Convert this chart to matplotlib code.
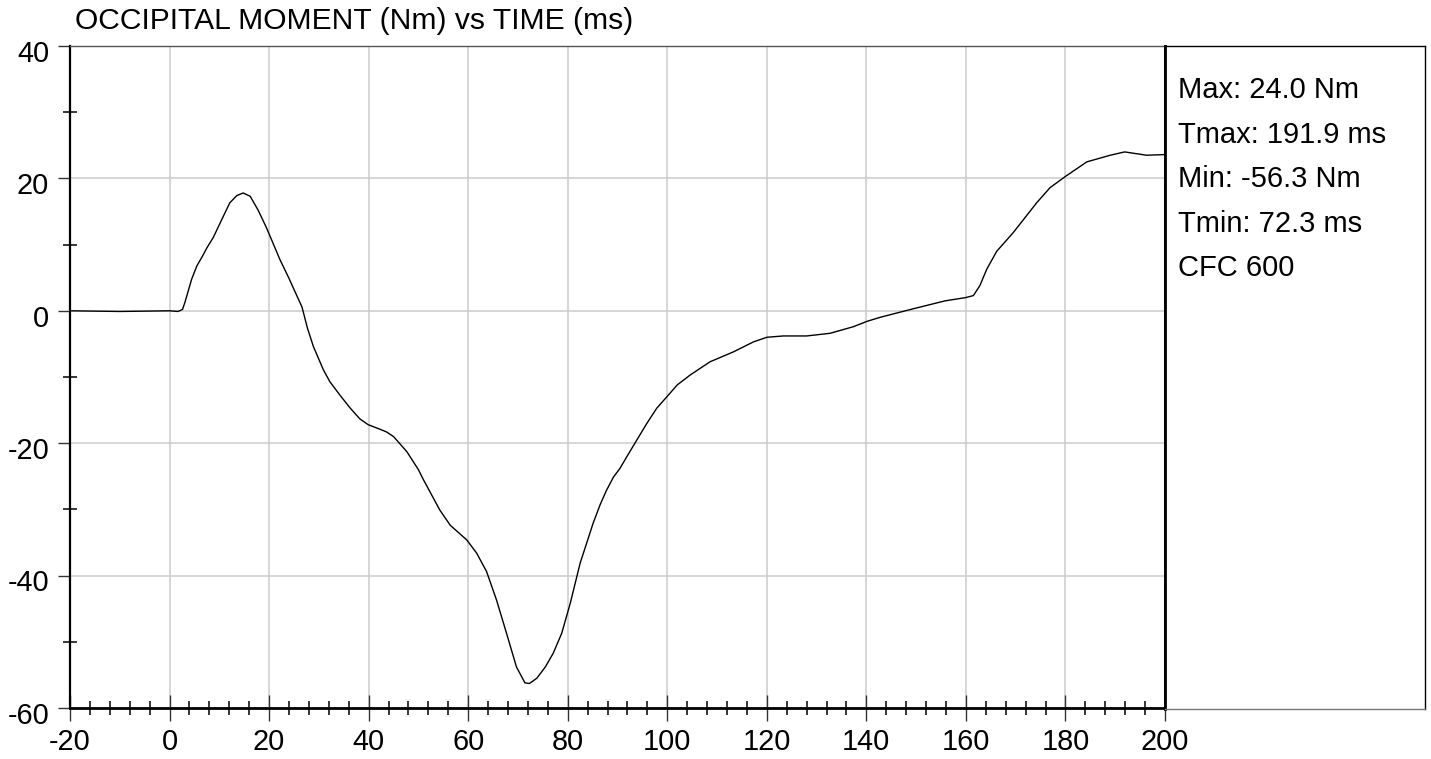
import matplotlib
matplotlib.use("Agg")
import matplotlib.pyplot as plt
from matplotlib.ticker import MultipleLocator
from matplotlib.transforms import ScaledTranslation

plt.rcParams['font.family'] = ['Liberation Sans', 'DejaVu Sans']
plt.rcParams['axes.unicode_minus'] = False

time_ms = [-20, -10, 0, 1.7, 2.6, 3.1, 4.45, 5.5, 6.5, 7.5, 8.8, 10.5, 12.1, 13.5, 14.8,
           16.2, 17.8, 19.5, 22.2, 24.0, 25.5, 26.6, 27.7, 28.9, 30.9, 32.2, 34.3, 36.3,
           38.2, 39.9, 42.3, 43.6, 45.0, 47.7, 50.0, 51.0, 54.3, 56.4, 59.7, 61.7, 63.7,
           65.7, 67.7, 69.7, 71.4, 72.3, 73.8, 75.5, 77.1, 78.8, 80.5, 82.5, 85.1, 86.5,
           87.8, 89.2, 90.5, 91.9, 93.9, 95.9, 97.9, 99.9, 102.0, 104.6, 108.6, 113.3,
           117.3, 120.0, 123.3, 128.0, 132.7, 137.4, 140.1, 142.7, 146.8, 149.4, 155.8,
           160.0, 161.5, 162.8, 164.2, 166.2, 169.5, 174.2, 176.9, 180.0, 184.3, 189.0,
           191.9, 196.3, 200.0]
moment_nm = [0.0, -0.1, 0.0, -0.1, 0.2, 1.3, 4.8, 6.8, 8.1, 9.5, 11.1, 13.8, 16.3, 17.4, 17.8,
             17.3, 15.2, 12.5, 7.7, 4.9, 2.4, 0.6, -2.6, -5.4, -8.9, -10.7, -12.8, -14.7,
             -16.3, -17.2, -17.9, -18.3, -19.0, -21.3, -24.0, -25.5, -30.1, -32.4, -34.6,
             -36.6, -39.4, -43.7, -48.7, -53.8, -56.2, -56.3, -55.5, -53.8, -51.7, -48.7,
             -44.2, -38.1, -32.1, -29.3, -27.1, -25.1, -23.8, -22.0, -19.5, -17.0, -14.7,
             -13.0, -11.2, -9.7, -7.7, -6.2, -4.7, -4.0, -3.8, -3.8, -3.4, -2.4, -1.6, -1.0,
             -0.2, 0.3, 1.5, 2.0, 2.3, 3.8, 6.3, 9.0, 11.8, 16.3, 18.6, 20.3, 22.5, 23.5,
             24.0, 23.5, 23.6]

title = "OCCIPITAL MOMENT (Nm) vs TIME (ms)"
stats_lines = ["Max: 24.0 Nm", "Tmax: 191.9 ms", "Min: -56.3 Nm", "Tmin: 72.3 ms", "CFC 600"]

W, H = 1431, 759
fig = plt.figure(figsize=(W / 100, H / 100), dpi=100)

L, R, T, B = 70, 1165, 46, 708
ax = fig.add_axes([L / W, (H - B) / H, (R - L) / W, (B - T) / H])
ax.plot(time_ms, moment_nm, color='black', lw=1.0)
ax.set_xlim(-20, 200)
ax.set_ylim(-60, 40)
ax.xaxis.set_major_locator(MultipleLocator(20))
ax.xaxis.set_minor_locator(MultipleLocator(4))
ax.yaxis.set_major_locator(MultipleLocator(20))
ax.yaxis.set_minor_locator(MultipleLocator(10))
ax.grid(True, which='major', color='#cccccc', lw=1.1)
ax.set_axisbelow(True)

ax.tick_params(axis='y', which='major', direction='out', length=8.6, width=1.0,
               color='#333333', labelsize=20.8, pad=6.5)
ax.tick_params(axis='y', which='minor', direction='inout', length=9.4, width=1.1, color='black')
ax.tick_params(axis='x', which='major', direction='inout', length=18.5, width=1.0,
               color='#333333', labelsize=20.8, pad=5.5)
ax.tick_params(axis='x', which='minor', direction='inout', length=10, width=1.1, color='black')

off = ScaledTranslation(0, -3.5 / 72, fig.dpi_scale_trans)
for lab in ax.get_yticklabels():
    lab.set_transform(lab.get_transform() + off)

ax.spines['left'].set_color('black')
ax.spines['left'].set_linewidth(1.6)
ax.spines['bottom'].set_color('black')
ax.spines['bottom'].set_linewidth(2.0)
ax.spines['top'].set_color('#555555')
ax.spines['top'].set_linewidth(1.0)
ax.spines['right'].set_color('black')
ax.spines['right'].set_linewidth(2.0)

# stats panel
PL, PR = 1165, 1425
pax = fig.add_axes([PL / W, (H - 709) / H, (PR - PL) / W, (709 - T) / H])
pax.set_xticks([])
pax.set_yticks([])
for s in ['top', 'right']:
    pax.spines[s].set_color('black')
    pax.spines[s].set_linewidth(1.0)
pax.spines['bottom'].set_color('#777777')
pax.spines['bottom'].set_linewidth(1.0)
pax.spines['left'].set_color('black')
pax.spines['left'].set_linewidth(2.0)
ph = 709 - T
for i, line in enumerate(stats_lines):
    yc = 90 + i * 44.6
    pax.text(13 / (PR - PL), 1 - (yc - T) / ph, line, transform=pax.transAxes,
             ha='left', va='center', fontsize=21)

fig.text(75 / W, (H - 29) / H, title, ha='left', va='baseline', fontsize=21.6)

fig.savefig('out.png', dpi=100)
